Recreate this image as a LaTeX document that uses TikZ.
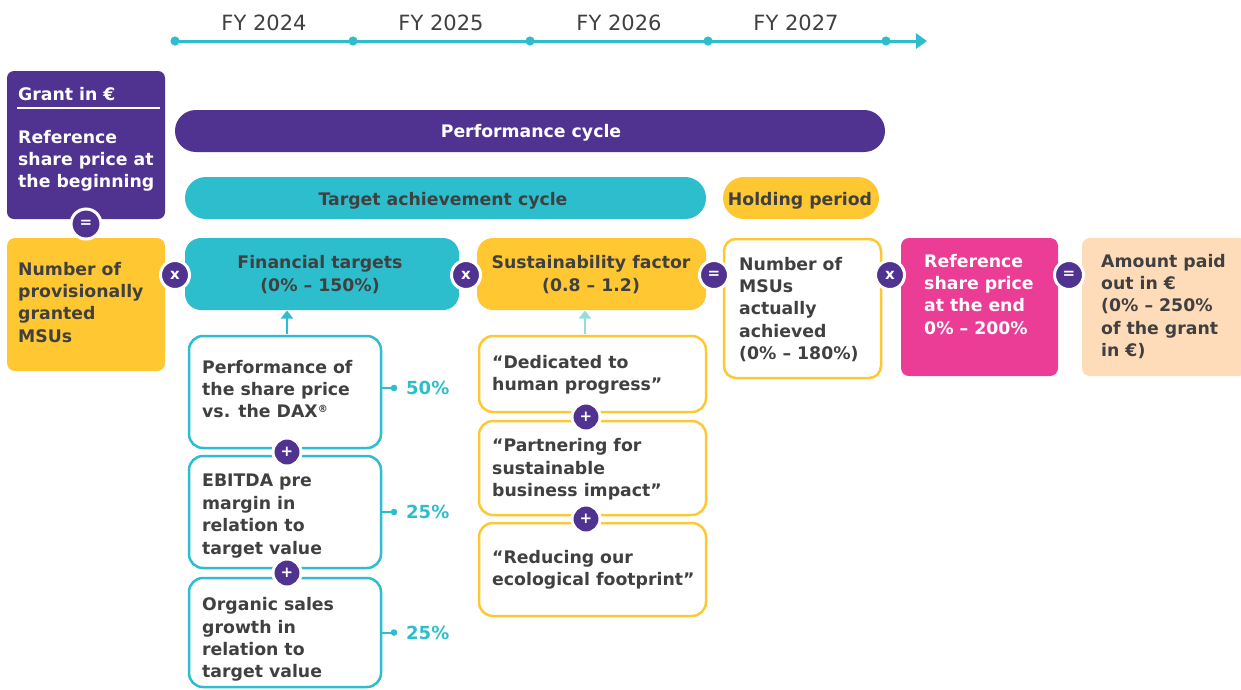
\documentclass[tikz,border=0pt]{standalone}
\usepackage{fontspec}
\setmainfont{DejaVu Sans}
\usetikzlibrary{arrows.meta}
\definecolor{mpurple}{HTML}{503291}
\definecolor{mcyan}{HTML}{2DBECD}
\definecolor{myellow}{HTML}{FFC832}
\definecolor{mpink}{HTML}{EB3C96}
\definecolor{mpeach}{HTML}{FFDCB9}
\definecolor{mtext}{HTML}{404040}
\definecolor{mmint}{HTML}{96DCD7}
\begin{document}
\begin{tikzpicture}[x=1pt,y=-1pt,
  box/.style={rectangle, rounded corners=7pt, inner sep=0pt, outer sep=0pt, anchor=north west},
  pill/.style={box, rounded corners=20.9pt},
  obox/.style={box, rounded corners=14pt, fill=white, line width=2.5pt},
  txt/.style={anchor=north west, inner sep=0pt, align=left, text=mtext,
    font=\bfseries\fontsize{17.3}{22.4}\selectfont},
  ctxt/.style={txt, anchor=center, align=center},
  fy/.style={inner sep=0pt, text=mtext, font=\fontsize{21}{25}\selectfont},
  op/.style={circle, fill=mpurple, draw=white, line width=3pt, minimum size=29pt,
    inner sep=0pt, text=white, font=\bfseries\fontsize{15}{15}\selectfont},
  pct/.style={anchor=west, inner sep=0pt, text=mcyan, font=\bfseries\fontsize{18}{20}\selectfont},
  tick/.style={mcyan, line width=2pt},
  uparrow/.style={line width=2.5pt, -{Triangle[length=8pt,width=12pt]}}
]
\useasboundingbox (0,0) rectangle (1241,689);

% timeline
\coordinate (t0) at (175,41);
\coordinate (t1) at (353,41);
\coordinate (t2) at (530,41);
\coordinate (t3) at (708,41);
\coordinate (t4) at (886,41);
\coordinate (tend) at (927,41);
\draw[mcyan, line width=3pt, -{Triangle[length=11pt,width=15pt]}] (t0) -- (tend);
\foreach \p in {t0,t1,t2,t3,t4} \fill[mcyan] (\p) circle (4.6);
\node[fy] (fy1) at (264,23) {FY 2024};
\node[fy] (fy2) at (441,23) {FY 2025};
\node[fy] (fy3) at (619,23) {FY 2026};
\node[fy] (fy4) at (796,23) {FY 2027};

% bars
\node[pill, fill=mpurple, minimum width=710pt, minimum height=42pt] (perf) at (175,110) {};
\node[ctxt, text=white] (perft) at (531,133) {Performance cycle};
\node[pill, fill=mcyan, minimum width=521pt, minimum height=42pt] (targ) at (185,177) {};
\node[ctxt] (targt) at (443,200.5) {Target achievement cycle};
\node[pill, fill=myellow, minimum width=156pt, minimum height=42pt] (hold) at (723,177) {};
\node[ctxt] (holdt) at (800,200.5) {Holding period};

% grant box
\node[box, fill=mpurple, minimum width=158pt, minimum height=148pt] (grant) at (7,71) {};
\node[txt, text=white] (grantt) at (18,86.8) {Grant in €};
\draw[white, line width=2.5pt] (17,108) -- (160,108);
\node[txt, text=white] (reft) at (18,129.8) {Reference\\share price at\\the beginning};

% main row
\node[box, fill=myellow, rounded corners=8pt, minimum width=158pt, minimum height=133pt] (prov) at (7,238) {};
\node[txt] (provt) at (18,261.8) {Number of\\provisionally\\granted\\MSUs};

\node[box, fill=mcyan, rounded corners=16pt, minimum width=274pt, minimum height=72pt] (fin) at (185,238) {};
\node[ctxt] (fint) at (320,274.5) {Financial targets\\(0\% – 150\%)};

\node[box, fill=myellow, rounded corners=16pt, minimum width=229pt, minimum height=72pt] (sust) at (477,238) {};
\node[ctxt] (sustt) at (591,274.5) {Sustainability factor\\(0.8 – 1.2)};

\node[obox, draw=myellow, rounded corners=12pt, minimum width=157pt, minimum height=139pt] (msu) at (724,239) {};
\node[txt] (msut) at (739,256.8) {Number of\\MSUs\\actually\\achieved\\(0\% – 180\%)};

\node[box, fill=mpink, rounded corners=8pt, minimum width=157pt, minimum height=138pt] (pink) at (901,238) {};
\node[txt, text=white] (pinkt) at (924,253.8) {Reference\\share price\\at the end\\0\% – 200\%};

\node[box, fill=mpeach, rounded corners=8pt, minimum width=165pt, minimum height=138pt] (peach) at (1082,238) {};
\node[txt] (peacht) at (1101,253.8) {Amount paid\\out in €\\(0\% – 250\%\\of the grant\\in €)};

% financial sub-boxes
\node[obox, draw=mcyan, minimum width=192pt, minimum height=112pt] (fb1) at (189,336) {};
\node[txt] (fb1t) at (202,359.8) {Performance of\\the share price\\vs. the DAX{\raisebox{5pt}{\fontsize{10}{10}\selectfont ®}}};
\node[obox, draw=mcyan, minimum width=192pt, minimum height=112pt] (fb2) at (189,456) {};
\node[txt] (fb2t) at (202,474) {EBITDA pre\\margin in\\relation to\\target value};
\node[obox, draw=mcyan, minimum width=192pt, minimum height=109pt] (fb3) at (189,578) {};
\node[txt] (fb3t) at (202,597.3) {Organic sales\\growth in\\relation to\\target value};

% percentages
\draw[tick] ([yshift=4pt]fb1.east) -- ++(13,0) coordinate (d1);
\fill[mcyan] (d1) circle (3.3);
\node[pct] (p1) at ([xshift=12pt]d1) {50\%};
\draw[tick] (fb2.east) -- ++(13,0) coordinate (d2);
\fill[mcyan] (d2) circle (3.3);
\node[pct] (p2) at ([xshift=12pt]d2) {25\%};
\draw[tick] (fb3.east) -- ++(13,0) coordinate (d3);
\fill[mcyan] (d3) circle (3.3);
\node[pct] (p3) at ([xshift=12pt]d3) {25\%};

% sustainability sub-boxes
\node[obox, draw=myellow, minimum width=227pt, minimum height=76pt] (sb1) at (479,336) {};
\node[txt] (sb1t) at (492,354.8) {“Dedicated to\\human progress”};
\node[obox, draw=myellow, minimum width=227pt, minimum height=94pt] (sb2) at (479,421) {};
\node[txt] (sb2t) at (492,438.3) {“Partnering for\\sustainable\\business impact”};
\node[obox, draw=myellow, minimum width=227pt, minimum height=93pt] (sb3) at (479,523) {};
\node[txt] (sb3t) at (492,549.8) {“Reducing our\\ecological footprint”};

% arrows up
\coordinate (a1s) at (287,334);
\coordinate (a1e) at (287,310.5);
\draw[uparrow, mcyan] (a1s) -- (a1e);
\coordinate (a2s) at (585,334);
\coordinate (a2e) at (585,310.5);
\draw[uparrow, mmint] (a2s) -- (a2e);

% operators
\node[op, minimum size=30pt] (o1) at (86,224) {=};
\node[op] (o2) at (175,275) {x};
\node[op] (o3) at (466,275) {x};
\node[op] (o4) at (714,275) {=};
\node[op] (o5) at (890,275) {x};
\node[op] (o6) at (1069,275) {=};
\node[op, minimum size=28pt] (pl1) at (287,452) {+};
\node[op, minimum size=28pt] (pl2) at (287,573) {+};
\node[op, minimum size=28pt] (pl3) at (586,417) {+};
\node[op, minimum size=28pt] (pl4) at (586,519) {+};
\end{tikzpicture}
\end{document}
